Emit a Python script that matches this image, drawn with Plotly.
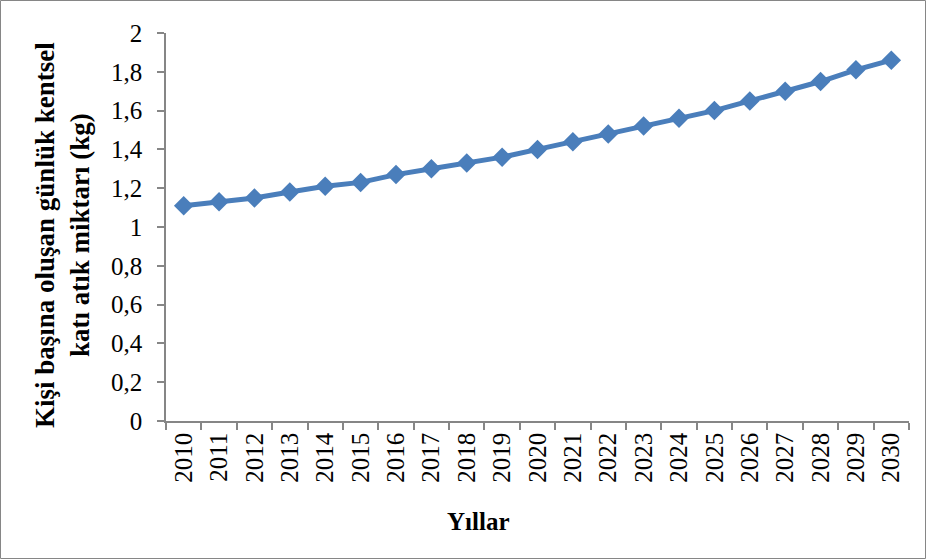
import plotly.graph_objects as go

years = [str(y) for y in range(2010, 2031)]
values = [1.11, 1.13, 1.15, 1.18, 1.21, 1.23, 1.27, 1.30, 1.33, 1.36, 1.40,
          1.44, 1.48, 1.52, 1.56, 1.60, 1.65, 1.70, 1.75, 1.81, 1.86]
y_title = "Kişi başına oluşan günlük kentsel<br>katı atık miktarı (kg)"
x_title = "Yıllar"

W, H = 926, 560
L, R, T, B = 166, 17, 33, 139
pw, ph = W - L - R, H - T - B

def px(x):
    return (x - L) / pw

def py(y):
    return (H - B - y) / ph

fig = go.Figure()
fig.add_trace(go.Scatter(
    x=years, y=values, mode="lines+markers",
    line=dict(color="#4a7ebb", width=5),
    marker=dict(symbol="diamond", size=15, color="#4a7ebb"),
    showlegend=False,
))

font = "Liberation Serif, Times New Roman, serif"
fig.update_layout(
    width=W, height=H,
    margin=dict(l=L, r=R, t=T, b=B, autoexpand=False),
    paper_bgcolor="white", plot_bgcolor="white",
    separators=", ",
    font=dict(family=font, size=25, color="black"),
    xaxis=dict(
        type="category", tickson="boundaries", tickangle=-90,
        showline=True, linecolor="#868686", linewidth=1.5,
        ticks="outside", ticklen=7, tickcolor="#868686", tickwidth=1.5,
        showgrid=False, zeroline=False, automargin=False,
        tickfont=dict(family=font, size=25),
        range=[-0.5, 20.5],
    ),
    yaxis=dict(
        range=[0, 2], dtick=0.2, tick0=0,
        showline=True, linecolor="#868686", linewidth=1.5,
        ticks="outside", ticklen=7, tickcolor="#868686", tickwidth=1.5,
        showgrid=False, zeroline=False, automargin=False,
        tickfont=dict(family=font, size=25),
        ticklabelstandoff=10,
    ),
    shapes=[dict(
        type="rect", xref="paper", yref="paper",
        x0=px(0.5), x1=px(925.5), y0=py(558.5), y1=py(0.5),
        line=dict(color="#868686", width=1), layer="below",
    )],
    annotations=[
        dict(text="<b>" + y_title + "</b>", xref="paper", yref="paper",
             x=px(63), y=py(235), textangle=-90, showarrow=False,
             font=dict(family=font, size=27), align="center",
             xanchor="center", yanchor="middle"),
        dict(text="<b>" + x_title + "</b>", xref="paper", yref="paper",
             x=px(478), y=py(521), showarrow=False,
             font=dict(family=font, size=25),
             xanchor="center", yanchor="middle"),
    ],
)

fig.write_html("out.html", config={"displayModeBar": False},
               post_script="document.body.style.margin='0';document.body.style.overflow='hidden';")
